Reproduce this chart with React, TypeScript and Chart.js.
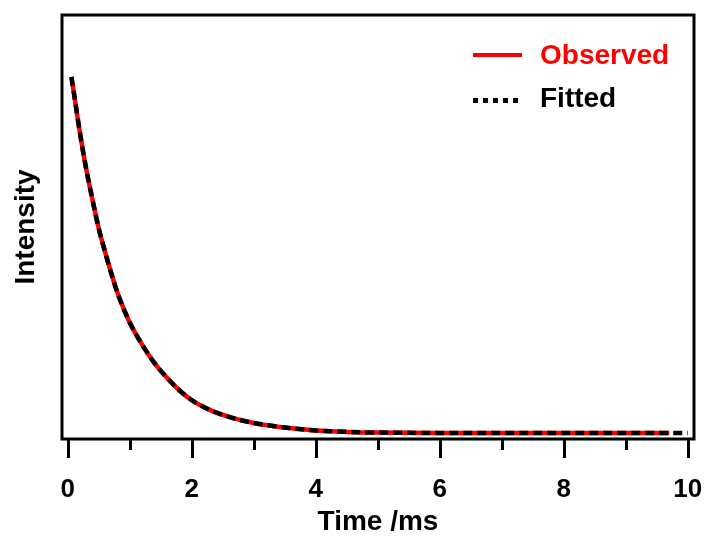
import React, { useEffect, useRef } from "react";
import { Chart, registerables } from "chart.js";

Chart.register(...registerables);

// ---- data ----
const timeMs = [0.06, 0.1, 0.2, 0.3, 0.4, 0.5, 0.6, 0.7, 0.8, 0.9, 1.0, 1.2, 1.4, 1.6, 1.8, 2.0, 2.3, 2.6, 3.0, 3.5, 4.0, 4.5, 5.0, 6.0, 7.0, 8.0, 9.0, 9.7, 10.0];
const observedIntensity = [1.0, 0.955, 0.84, 0.74, 0.655, 0.575, 0.51, 0.45, 0.395, 0.35, 0.31, 0.248, 0.196, 0.155, 0.12, 0.092, 0.064, 0.045, 0.028, 0.015, 0.007, 0.003, 0.001, 0, 0, 0, 0, 0, null];
const fittedIntensity = [1.0, 0.955, 0.84, 0.74, 0.655, 0.575, 0.51, 0.45, 0.395, 0.35, 0.31, 0.248, 0.196, 0.155, 0.12, 0.092, 0.064, 0.045, 0.028, 0.015, 0.007, 0.003, 0.001, 0, 0, 0, 0, 0, 0];
const tickValues = [0, 1, 2, 3, 4, 5, 6, 7, 8, 9, 10];
const labelledTicks = [0, 2, 4, 6, 8, 10];
const seriesNames = ["Observed", "Fitted"];
const axisTitles = { x: "Time /ms", y: "Intensity" };

const FONT = "'Liberation Sans', Arial, Helvetica, sans-serif";

const framePlugin = {
  id: "frame",
  afterDraw(chart: any) {
    const { ctx, chartArea: a, scales } = chart;
    const xs = scales.x;
    ctx.save();
    ctx.strokeStyle = "#000";
    ctx.lineWidth = 3;
    ctx.strokeRect(a.left, a.top, a.right - a.left, a.bottom - a.top);
    ctx.beginPath();
    for (const v of tickValues) {
      const px = Math.round(xs.getPixelForValue(v)) + 0.5;
      const len = labelledTicks.includes(v) ? 19 : 11;
      ctx.moveTo(px, a.bottom);
      ctx.lineTo(px, a.bottom + len);
    }
    ctx.stroke();
    ctx.restore();
  },
};

export default function App() {
  const ref = useRef<HTMLCanvasElement | null>(null);

  useEffect(() => {
    if (!ref.current) return;
    const chart = new Chart(ref.current, {
      type: "line",
      data: {
        datasets: [
          {
            label: seriesNames[1],
            data: timeMs.map((t, i) => ({ x: t, y: fittedIntensity[i] })),
            borderColor: "#000000",
            borderWidth: 4.5,
            borderDash: [9, 5],
            pointRadius: 0,
            cubicInterpolationMode: "monotone",
            fill: false,
            order: 0,
          },
          {
            label: seriesNames[0],
            data: timeMs.map((t, i) => ({ x: t, y: observedIntensity[i] })),
            borderColor: "#ff0000",
            borderWidth: 4.5,
            pointRadius: 0,
            cubicInterpolationMode: "monotone",
            fill: false,
            spanGaps: false,
            order: 1,
          },
        ],
      },
      options: {
        responsive: false,
        animation: false,
        devicePixelRatio: 1,
        layout: { padding: { top: 15, right: 14, left: 0, bottom: 0 } },
        plugins: { legend: { display: false }, tooltip: { enabled: false } },
        scales: {
          x: {
            type: "linear",
            min: -0.092,
            max: 10.1,
            grid: { display: false, drawTicks: false },
            border: { display: false },
            afterBuildTicks: (s: any) => {
              s.ticks = tickValues.map((v) => ({ value: v }));
            },
            afterFit: (s: any) => {
              s.height = 98;
              s.paddingLeft = 0;
              s.paddingRight = 0;
            },
            ticks: {
              autoSkip: false,
              maxRotation: 0,
              padding: 35,
              color: "#000",
              font: { family: FONT, size: 26, weight: "bold" },
              callback: (v: any) => (labelledTicks.includes(Number(v)) ? String(v) : ""),
            },
            title: {
              display: true,
              text: axisTitles.x,
              color: "#000",
              padding: { top: 0, bottom: 0 },
              font: { family: FONT, size: 28, weight: "bold", lineHeight: 1.05 },
            },
          },
          y: {
            type: "linear",
            min: -0.017,
            max: 1.174,
            grid: { display: false, drawTicks: false },
            border: { display: false },
            ticks: { display: false },
            afterFit: (s: any) => {
              s.width = 62;
              s.paddingTop = 0;
              s.paddingBottom = 0;
            },
            title: {
              display: true,
              text: axisTitles.y,
              color: "#000",
              padding: { top: 12, bottom: 0 },
              font: { family: FONT, size: 28, weight: "bold", lineHeight: 1.05 },
            },
          },
        },
      },
      plugins: [framePlugin],
    } as any);
    return () => chart.destroy();
  }, []);

  const textStyle: React.CSSProperties = {
    position: "absolute",
    left: 540,
    fontFamily: FONT,
    fontWeight: "bold",
    fontSize: 28,
    lineHeight: "28px",
    whiteSpace: "nowrap",
  };

  return (
    <div style={{ position: "fixed", left: 0, top: 0, width: 708, height: 537, background: "#fff" }}>
      <canvas ref={ref} width={708} height={537} style={{ display: "block", width: 708, height: 537 }} />
      <div style={{ position: "absolute", left: 473, top: 53, width: 49, height: 4, background: "#ff0000" }} />
      <div style={{ ...textStyle, top: 41, color: "#ff0000" }}>{seriesNames[0]}</div>
      <div
        style={{
          position: "absolute",
          left: 473,
          top: 98,
          width: 50,
          height: 5,
          background: "repeating-linear-gradient(to right, #000 0px, #000 5px, transparent 5px, transparent 10px)",
        }}
      />
      <div style={{ ...textStyle, top: 84, color: "#000" }}>{seriesNames[1]}</div>
    </div>
  );
}
